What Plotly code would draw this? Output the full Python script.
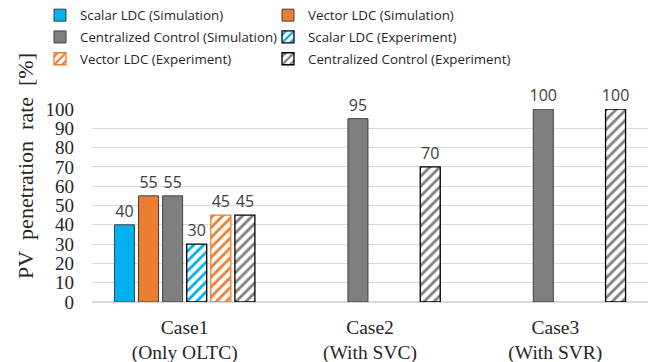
import plotly.graph_objects as go

# Categories and values
cases = ["Case1<br>(Only OLTC)", "Case2<br>(With SVC)", "Case3<br>(With SVR)"]
scalar_sim = [40, None, None]
vector_sim = [55, None, None]
central_sim = [55, 95, 100]
scalar_exp = [30, None, None]
vector_exp = [45, None, None]
central_exp = [45, 70, 100]

BLUE = "#00B0F0"
ORANGE = "#ED7D31"
GRAY = "#7F7F7F"
OUTLINE = "#404040"

# name, values, colour, hatch shape, outline colour, legend column
series = [
    ("Scalar LDC (Simulation)", scalar_sim, BLUE, None, OUTLINE, "legend"),
    ("Vector LDC (Simulation)", vector_sim, ORANGE, None, OUTLINE, "legend2"),
    ("Centralized Control (Simulation)", central_sim, GRAY, None, OUTLINE, "legend"),
    ("Scalar LDC (Experiment)", scalar_exp, BLUE, "/", "#000000", "legend2"),
    ("Vector LDC (Experiment)", vector_exp, ORANGE, "/", ORANGE, "legend"),
    ("Centralized Control (Experiment)", central_exp, GRAY, "/", "#000000", "legend2"),
]

fig = go.Figure()
for name, vals, color, shape, line_color, leg in series:
    if shape is None:
        marker = dict(color=color, line=dict(color=line_color, width=1))
    else:
        marker = dict(
            color="white",
            line=dict(color=line_color, width=1.3),
            pattern=dict(shape=shape, fgcolor=color, bgcolor="white",
                         size=7, solidity=0.4, fillmode="replace"),
        )
    fig.add_trace(go.Bar(
        name=name, x=cases, y=vals, marker=marker,
        legend=leg, legendgroup=name,
        text=[("" if v is None else str(v)) for v in vals],
        textposition="outside", cliponaxis=False, constraintext="none",
        textfont=dict(family="Open Sans, sans-serif", size=16, color="#404040"),
    ))

legend_style = dict(
    orientation="v", xref="container", yref="container", y=1.0,
    xanchor="left", yanchor="top", itemwidth=30, tracegroupgap=1.5,
    bgcolor="rgba(0,0,0,0)",
    font=dict(family="Open Sans, sans-serif", size=13.3, color="#262626"),
)

fig.update_layout(
    width=670, height=362,
    margin=dict(l=92, r=22, t=109, b=60, autoexpand=False),
    paper_bgcolor="white", plot_bgcolor="white",
    barmode="group", bargap=0.22, bargroupgap=0.17,
    showlegend=True,
    legend=dict(legend_style, x=40 / 670),
    legend2=dict(legend_style, x=268 / 670),
    font=dict(family="Liberation Serif, Times New Roman, serif", color="#262626"),
    annotations=[dict(
        text="PV\u00a0\u00a0penetration\u00a0\u00a0rate\u00a0\u00a0[%]",
        textangle=-90, xref="paper", yref="paper",
        x=(25 - 92) / 556, y=(302 - 166) / 193,
        xanchor="center", yanchor="middle", showarrow=False,
        font=dict(family="Liberation Serif, serif", size=22, color="#262626"),
    )],
)
fig.update_xaxes(
    showgrid=False, showline=False, ticks="", automargin=False,
    tickfont=dict(family="Liberation Serif, serif", size=19.5, color="#262626"),
    ticklabelstandoff=11,
)
fig.update_yaxes(
    range=[0, 100], dtick=10, showgrid=True, gridcolor="#D9D9D9",
    zeroline=True, zerolinecolor="#D9D9D9", showline=False, ticks="",
    automargin=False,
    tickfont=dict(family="Liberation Serif, serif", size=19, color="#262626"),
    ticklabelstandoff=17,
)

fig.write_html("out.html")
